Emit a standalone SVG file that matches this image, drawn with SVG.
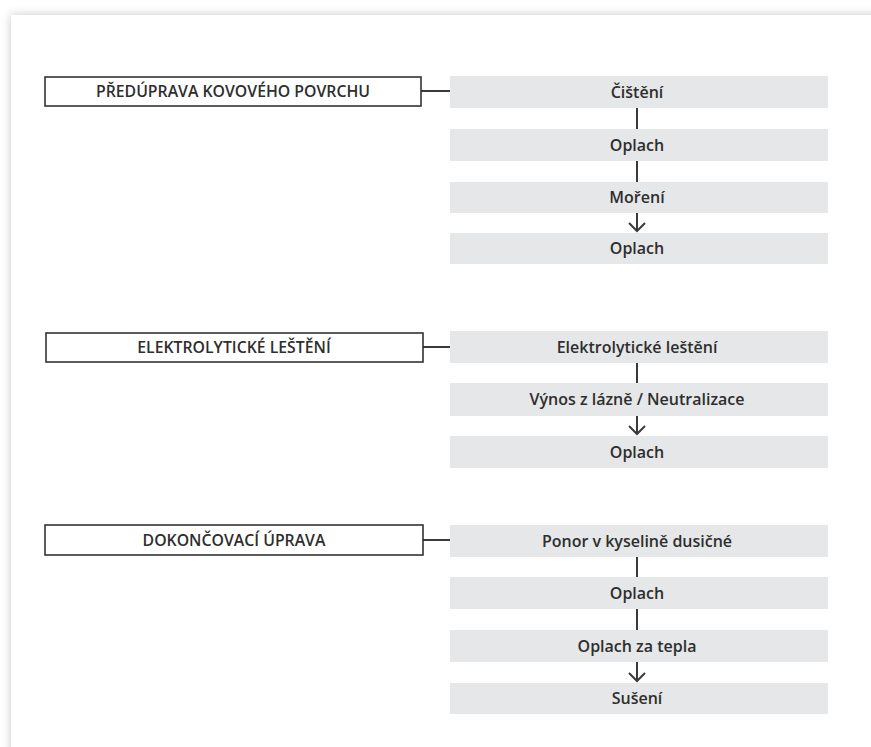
<svg xmlns="http://www.w3.org/2000/svg" width="871" height="747" viewBox="0 0 871 747">
<style>
.sec rect{fill:#fff;stroke:#333;stroke-width:1.6}
.step rect{fill:#e6e7e8}
.lbl{font-family:"Open Sans","Liberation Sans",sans-serif;fill:#2e2e2e;text-anchor:middle}
.sec text{font-size:15.8px;font-weight:600}
.step text{font-size:16px;font-weight:600}
#connectors path{fill:none;stroke:#3a3a3a;stroke-width:2}
</style>
<defs>
<filter id="sh" x="-10%" y="-10%" width="120%" height="120%">
<feDropShadow dx="0" dy="0" stdDeviation="5" flood-color="#000" flood-opacity="0.22"/>
</filter>
</defs>
<rect x="0" y="0" width="871" height="747" fill="#fff"/>
<rect x="11" y="15" width="880" height="760" fill="#fff" filter="url(#sh)"/>

<g id="connectors">
<path d="M421 91H450"/>
<path d="M637 108V129"/>
<path d="M637 161V182"/>
<path d="M637 213V231M629 223L637 231L645 223"/>
<path d="M423 347H450"/>
<path d="M637 363V383"/>
<path d="M637 416V434M629 426L637 434L645 426"/>
<path d="M423 540H450"/>
<path d="M637 557V577"/>
<path d="M637 609V630"/>
<path d="M637 662V681M629 673L637 681L645 673"/>
</g>

<g id="sec1" class="sec"><rect x="45" y="77" width="376" height="29"/><text class="lbl" x="233" y="97">PŘEDÚPRAVA KOVOVÉHO POVRCHU</text></g>
<g id="sec2" class="sec"><rect x="46" y="333" width="377" height="29"/><text class="lbl" x="234" y="353">ELEKTROLYTICKÉ LEŠTĚNÍ</text></g>
<g id="sec3" class="sec"><rect x="45" y="525" width="378" height="30"/><text class="lbl" x="234" y="545.5">DOKONČOVACÍ ÚPRAVA</text></g>

<g id="s1" class="step"><rect x="450" y="76" width="378" height="32"/><text class="lbl" x="637" y="97.7">Čištění</text></g>
<g id="s2" class="step"><rect x="450" y="129" width="378" height="32"/><text class="lbl" x="637" y="150.7">Oplach</text></g>
<g id="s3" class="step"><rect x="450" y="182" width="378" height="31"/><text class="lbl" x="637" y="203">Moření</text></g>
<g id="s4" class="step"><rect x="450" y="233" width="378" height="31"/><text class="lbl" x="637" y="254">Oplach</text></g>

<g id="s5" class="step"><rect x="450" y="331" width="378" height="32"/><text class="lbl" x="637" y="352.7">Elektrolytické leštění</text></g>
<g id="s6" class="step"><rect x="450" y="383" width="378" height="33"/><text class="lbl" x="637" y="405">Výnos z lázně / Neutralizace</text></g>
<g id="s7" class="step"><rect x="450" y="436" width="378" height="32"/><text class="lbl" x="637" y="457.5">Oplach</text></g>

<g id="s8" class="step"><rect x="450" y="525" width="378" height="32"/><text class="lbl" x="637" y="546.5">Ponor v kyselině dusičné</text></g>
<g id="s9" class="step"><rect x="450" y="577" width="378" height="32"/><text class="lbl" x="637" y="598.5">Oplach</text></g>
<g id="s10" class="step"><rect x="450" y="630" width="378" height="32"/><text class="lbl" x="637" y="651.5">Oplach za tepla</text></g>
<g id="s11" class="step"><rect x="450" y="683" width="378" height="31"/><text class="lbl" x="637" y="704">Sušení</text></g>
</svg>
